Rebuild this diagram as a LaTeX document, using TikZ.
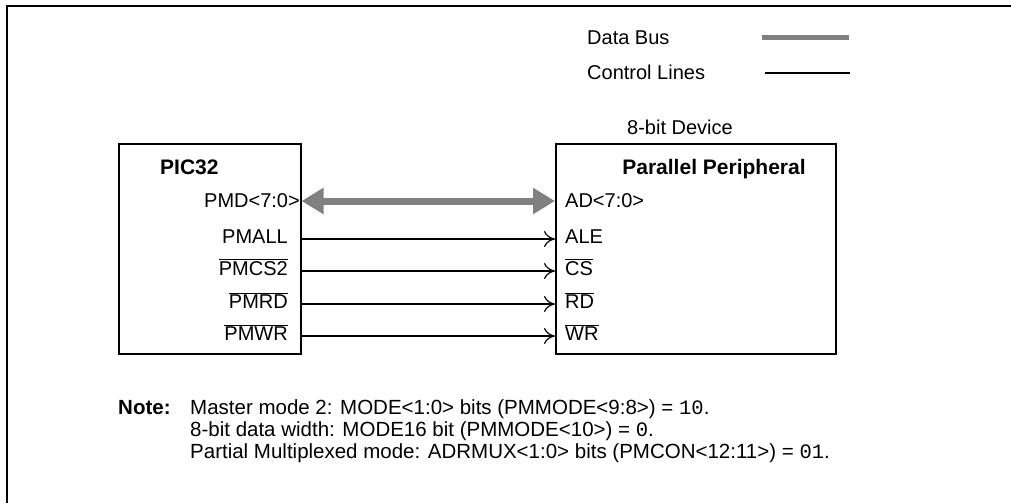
\documentclass[tikz,border=0pt]{standalone}
\usepackage{fontspec}
\setmainfont{Liberation Sans}
\newfontfamily\monofnt{Liberation Mono}
\usetikzlibrary{arrows.meta}
\definecolor{busgray}{HTML}{808080}
\begin{document}
\begin{tikzpicture}[x=1pt,y=-1pt,
  lbl/.style={inner sep=0pt,font=\fontsize{20}{22}\selectfont},
  nlbl/.style={inner sep=0pt,font=\fontsize{20.5}{22}\selectfont},
  blbl/.style={inner sep=0pt,font=\fontsize{21}{24}\selectfont\bfseries},
  box/.style={draw,line width=1.6pt},
  ctrl/.style={line width=1.2pt,-{To[length=11pt,width=16pt]}},
  bus/.style={line width=7pt,draw=busgray,{Triangle[length=22pt,width=25pt]}-{Triangle[length=22pt,width=25pt]}, color=busgray}]
\useasboundingbox (0,0) rectangle (1011,503);
\fill[white] (0,0) rectangle (1011,503);
\draw[line width=2.6pt] (1011,6) -- (7,6) -- (7,503);
% legend
\node[lbl,anchor=west] (ldb) at (587,38) {Data Bus};
\node[lbl,anchor=west] (lcl) at (587,72) {Control Lines};
\coordinate (db1) at (762,38); \coordinate (db2) at (849,38);
\draw[line width=5pt,busgray] (db1) -- (db2);
\coordinate (cl1) at (765,73); \coordinate (cl2) at (850,73);
\draw[line width=1.4pt] (cl1) -- (cl2);
% boxes
\node[box,minimum width=182pt,minimum height=210pt,anchor=north west,inner sep=0pt] (pic) at (118,143) {};
\node[box,minimum width=280pt,minimum height=210pt,anchor=north west,inner sep=0pt] (per) at (555,143) {};
\node[lbl,anchor=base] (dev) at (680,134) {8-bit Device};
\node[blbl,anchor=base west] (pic32) at (160,174) {PIC32};
\node[blbl,anchor=base] (pp) at (714,174) {Parallel Peripheral};
% left labels
\node[lbl,anchor=base east] (pmd) at (300,207) {PMD<7:0>};
\node[lbl,anchor=base east] (pmall) at (288,243) {PMALL};
\node[lbl,anchor=base east] (pmcs) at (288,275) {$\overline{\mbox{PMCS2}}$};
\node[lbl,anchor=base east] (pmrd) at (288,308) {$\overline{\mbox{PMRD}}$};
\node[lbl,anchor=base east] (pmwr) at (288,340) {$\overline{\mbox{PMWR}}$};
% right labels
\node[lbl,anchor=base west] (ad) at (565,207) {AD<7:0>};
\node[lbl,anchor=base west] (ale) at (565,243) {ALE};
\node[lbl,anchor=base west] (cs) at (565,275) {$\overline{\mbox{CS}}$};
\node[lbl,anchor=base west] (rd) at (565,308) {$\overline{\mbox{RD}}$};
\node[lbl,anchor=base west] (wr) at (565,340) {$\overline{\mbox{WR}}$};
% connectors
\draw[bus] (pic.east |- 0,201) -- (per.west |- 0,201);
\draw[ctrl] (pic.east |- 0,239) -- (per.west |- 0,239);
\draw[ctrl] (pic.east |- 0,271) -- (per.west |- 0,271);
\draw[ctrl] (pic.east |- 0,304) -- (per.west |- 0,304);
\draw[ctrl] (pic.east |- 0,336) -- (per.west |- 0,336);
% note
\node[blbl,font=\fontsize{20.5}{22}\selectfont\bfseries,anchor=base west] (note) at (118,414) {Note:};
\node[nlbl,anchor=base west] (n1) at (190,414) {Master mode 2: MODE<1:0> bits (PMMODE<9:8>) = {\monofnt 10}.};
\node[nlbl,anchor=base west] (n2) at (190,436) {8-bit data width: MODE16 bit (PMMODE<10>) = {\monofnt 0}.};
\node[nlbl,anchor=base west] (n3) at (190,458) {Partial Multiplexed mode: ADRMUX<1:0> bits (PMCON<12:11>) = {\monofnt 01}.};
\end{tikzpicture}
\end{document}
